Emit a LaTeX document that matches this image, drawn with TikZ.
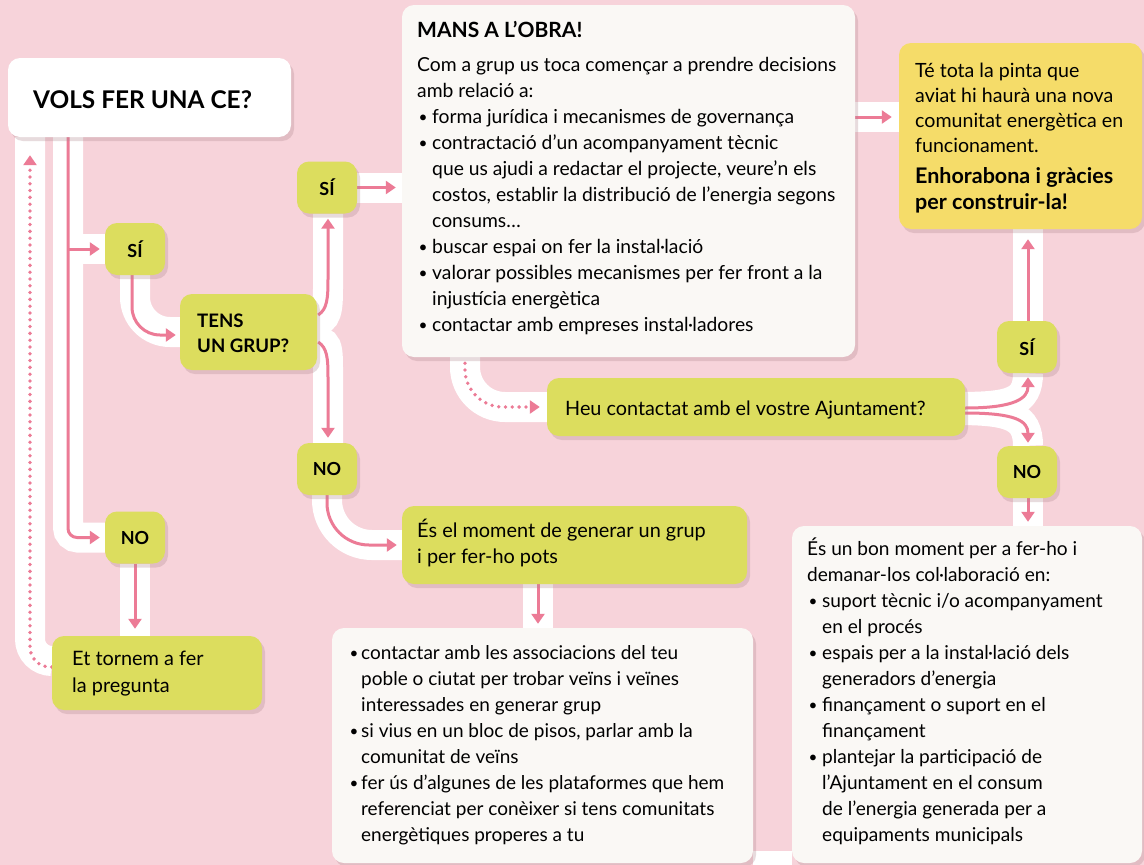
\documentclass[tikz,border=0pt]{standalone}
\usepackage{fontspec}
\usepackage{graphicx}
\setmainfont{Lato}
\usetikzlibrary{arrows.meta,shadows,calc}
\definecolor{bgpink}{HTML}{F7D3DA}
\definecolor{arrowpink}{HTML}{EC7B96}
\definecolor{lime}{HTML}{DCDD5E}
\definecolor{sun}{HTML}{F5DC69}
\definecolor{paper}{HTML}{FAF8F5}
\definecolor{shade}{HTML}{B08890}
\newcommand\bulx{\makebox[13pt][l]{\hspace*{1.5pt}\raisebox{0.6pt}{\scalebox{0.8}{•}}}}
\newcommand\indx{\hspace*{13pt}}
\newcommand\bulw{\makebox[15pt][l]{\hspace*{1.5pt}\raisebox{0.6pt}{\scalebox{0.8}{•}}}}
\newcommand\indw{\hspace*{15pt}}
\pgfdeclarelayer{bgl}
\pgfdeclarelayer{roadl}
\pgfsetlayers{bgl,roadl,main}
\tikzset{
  road/.style={line width=30pt, draw=white},
  flow/.style={line width=3pt, draw=arrowpink, -{Triangle[length=10pt,width=13pt,fill=arrowpink]}},
  dots/.style={flow, line width=3.8pt, line cap=round, dash pattern=on 0pt off 6.8pt},
  box/.style={rectangle, rounded corners=12pt, inner sep=0pt,
    drop shadow={shadow xshift=3pt, shadow yshift=-4pt, fill=shade, opacity=0.3}},
  tag/.style={box, fill=lime, minimum width=60pt, minimum height=52pt,
    font=\bfseries\fontsize{18}{20}\selectfont},
  txt/.style={inner sep=0pt, anchor=base west, align=left, font=\fontsize{19.3}{26}\selectfont},
}
\begin{document}
\begin{tikzpicture}[x=1pt,y=-1pt]
\begin{pgfonlayer}{bgl}
  \fill[bgpink] (0,0) rectangle (1144,865);
\end{pgfonlayer}
\useasboundingbox (0,0) rectangle (1144,865);

% ---------- boxes ----------
\node[box, fill=white, minimum width=283pt, minimum height=79pt] (vols) at (149.5,97.5) {};
\node[txt, font=\bfseries\fontsize{24.4}{28}\selectfont] (volsT) at (33,108) {VOLS FER UNA CE?};

\node[tag] (si1) at (135,249) {SÍ};
\node[tag] (no1) at (135,537.5) {NO};
\node[box, fill=lime, minimum width=137pt, minimum height=76pt] (tens) at (248.5,332) {};
\node[txt, font=\bfseries\fontsize{18.6}{25}\selectfont] (tensT) at (197,352) {TENS\\UN GRUP?};
\node[tag] (si2) at (327,187.5) {SÍ};
\node[tag] (no2) at (327,469) {NO};

\node[box, fill=lime, minimum width=210pt, minimum height=74pt] (et) at (157,673) {};
\node[txt, font=\fontsize{19.9}{27}\selectfont] (etT) at (72,692) {Et tornem a fer\\la pregunta};

\node[box, fill=paper, minimum width=453pt, minimum height=352pt] (mans) at (628.5,181) {};
\node[txt, font=\bfseries\fontsize{21}{24}\selectfont] (mansH) at (417,37) {MANS A L’OBRA!};
\node[txt] (mansT) at (417,331) {Com a grup us toca començar a prendre decisions\\
amb relació a:\\
\bulw forma jurídica i mecanismes de governança\\
\bulw contractació d’un acompanyament tècnic\\
\indw que us ajudi a redactar el projecte, veure’n els\\
\indw costos, establir la distribució de l’energia segons\\
\indw consums…\\
\bulw buscar espai on fer la instal·lació\\
\bulw valorar possibles mecanismes per fer front a la\\
\indw injustícia energètica\\
\bulw contactar amb empreses instal·ladores};

\node[box, fill=sun, minimum width=243pt, minimum height=186pt] (fi) at (1020.5,136) {};
\node[txt, font=\fontsize{19.6}{25}\selectfont] (fiT) at (915,152) {Té tota la pinta que\\aviat hi haurà una nova\\comunitat energètica en\\funcionament.};
\node[txt, font=\bfseries\fontsize{21.5}{26}\selectfont] (fiB) at (915,209) {Enhorabona i gràcies\\per construir-la!};

\node[tag] (si3) at (1027,347) {SÍ};
\node[tag] (no3) at (1027,472) {NO};
\node[box, fill=lime, minimum width=418pt, minimum height=58pt] (heu) at (756,407) {};
\node[txt, font=\fontsize{19.8}{26}\selectfont] (heuT) at (565,415) {Heu contactat amb el vostre Ajuntament?};

\node[box, fill=lime, minimum width=345pt, minimum height=78pt] (es) at (574.5,545) {};
\node[txt, font=\fontsize{19.9}{26}\selectfont] (esT) at (417,563) {És el moment de generar un grup\\i per fer-ho pots};

\node[box, fill=paper, minimum width=421pt, minimum height=235pt] (bc) at (542.5,745.5) {};
\node[txt, font=\fontsize{19}{26}\selectfont] (bcT) at (348,841) {\bulx contactar amb les associacions del teu\\
\indx poble o ciutat per trobar veïns i veïnes\\
\indx interessades en generar grup\\
\bulx si vius en un bloc de pisos, parlar amb la\\
\indx comunitat de veïns\\
\bulx fer ús d’algunes de les plataformes que hem\\
\indx referenciat per conèixer si tens comunitats\\
\indx energètiques properes a tu};

\node[box, fill=paper, minimum width=350pt, minimum height=337pt] (br) at (967,694.5) {};
\node[txt, font=\fontsize{19.1}{26}\selectfont] (brT) at (807,841) {És un bon moment per a fer-ho i\\
demanar-los col·laboració en:\\
\bulw suport tècnic i/o acompanyament\\
\indw en el procés\\
\bulw espais per a la instal·lació dels\\
\indw generadors d’energia\\
\bulw finançament o suport en el\\
\indw finançament\\
\bulw plantejar la participació de\\
\indw l’Ajuntament en el consum\\
\indw de l’energia generada per a\\
\indw equipaments municipals};

% ---------- helper coordinates ----------
\coordinate (c68) at (68,0);
\coordinate (c30) at (30,0);
\coordinate (c465) at (465,0);
\coordinate (c538) at (538,0);
\coordinate (y117) at (0,117);
\coordinate (y661) at (0,661);
\coordinate (y667) at (0,667);

% ---------- roads and arrows ----------
\begin{pgfonlayer}{roadl}
  % white strip at the bottom edge between the two lower boxes
  \fill[white] (bc.south east |- 0,851) rectangle (br.south west |- 0,865);
  % roads
  \draw[road, rounded corners=10pt] (vols.south -| c68) |- (no1.west);
  \draw[road] (c68 |- si1.west) -- (si1.west);
  \draw[road, rounded corners=22pt] (et.west |- y661) -| (vols.south -| c30);
  \draw[road] (no1.south) -- (no1.south |- et.north);
  \draw[road, rounded corners=35pt] (si1.south) |- (tens.west);
  \draw[road] ($(tens.east)+(-12,-6)$) .. controls +(20,-6) and +(0,30) .. ($(si2.south)+(1,75)$) -- ($(si2.south)+(1,0)$);
  \draw[road] ($(tens.east)+(-12,6)$) .. controls +(20,6) and +(0,-30) .. ($(no2.north)+(1,-75)$) -- ($(no2.north)+(1,0)$);
  \draw[road] (si2.east) -- (si2.east -| mans.west);
  \draw[road] (mans.east |- y117) -- (fi.west |- y117);
  \draw[road] ($(si3.north)+(1,0)$) -- ($(si3.north |- fi.south)+(1,0)$);
  \draw[road] ($(heu.east)+(-10,0)$) .. controls +(55,0) and +(0,30) .. ($(si3.south)+(1,0)$);
  \draw[road] ($(heu.east)+(-10,3)$) .. controls +(55,0) and +(0,-30) .. ($(no3.north)+(1,0)$);
  \draw[road] ($(no3.south)+(1,0)$) -- ($(no3.south |- br.north)+(1,0)$);
  \draw[road, rounded corners=40pt] (mans.south -| c465) |- (heu.west);
  \draw[road, rounded corners=45pt] (no2.south) |- (es.west);
  \draw[road] (es.south -| c538) -- (bc.north -| c538);

  % arrows
  \draw[flow, rounded corners=9pt, shorten >=5pt] (vols.south -| c68) |- (no1.west);
  \draw[flow, shorten >=5pt] (c68 |- si1.west) -- (si1.west);
  \draw[dots, rounded corners=20pt] (et.west |- y667) -| ($(vols.south -| c30)+(0,18)$);
  \draw[flow, shorten >=7pt] (no1.south) -- (no1.south |- et.north);
  \draw[flow, rounded corners=28pt, shorten >=4pt] ($(si1.south)+(-3,0)$) |- ($(tens.west)+(0,3)$);
  \draw[flow, shorten >=5pt] ($(tens.east)+(1,-17)$) .. controls +(9,-6) and +(0,20) .. ($(si2.south)+(1,65)$) -- ($(si2.south)+(1,0)$);
  \draw[flow, shorten >=5pt] ($(tens.east)+(1,10)$) .. controls +(9,6) and +(0,-20) .. ($(no2.north)+(1,-65)$) -- ($(no2.north)+(1,0)$);
  \draw[flow, shorten >=6pt] (si2.east) -- (si2.east -| mans.west);
  \draw[flow, shorten >=7pt] (mans.east |- y117) -- (fi.west |- y117);
  \draw[flow, shorten >=10pt] ($(si3.north)+(1,0)$) -- ($(si3.north |- fi.south)+(1,0)$);
  \draw[flow, shorten >=4pt] ($(heu.east)+(0,1)$) .. controls +(50,0) and +(0,25) .. ($(si3.south)+(1,0)$);
  \draw[flow, shorten >=3pt] ($(heu.east)+(0,6)$) .. controls +(50,0) and +(0,-25) .. ($(no3.north)+(1,0)$);
  \draw[flow, shorten >=4pt] ($(no3.south)+(1,0)$) -- ($(no3.south |- br.north)+(1,0)$);
  \draw[dots, rounded corners=38pt, shorten >=7pt] ($(mans.south -| c465)+(0,6)$) |- (heu.west);
  \draw[flow, rounded corners=42pt, shorten >=5pt] (no2.south) |- (es.west);
  \draw[flow, shorten >=4pt] (es.south -| c538) -- (bc.north -| c538);
\end{pgfonlayer}
\end{tikzpicture}
\end{document}
